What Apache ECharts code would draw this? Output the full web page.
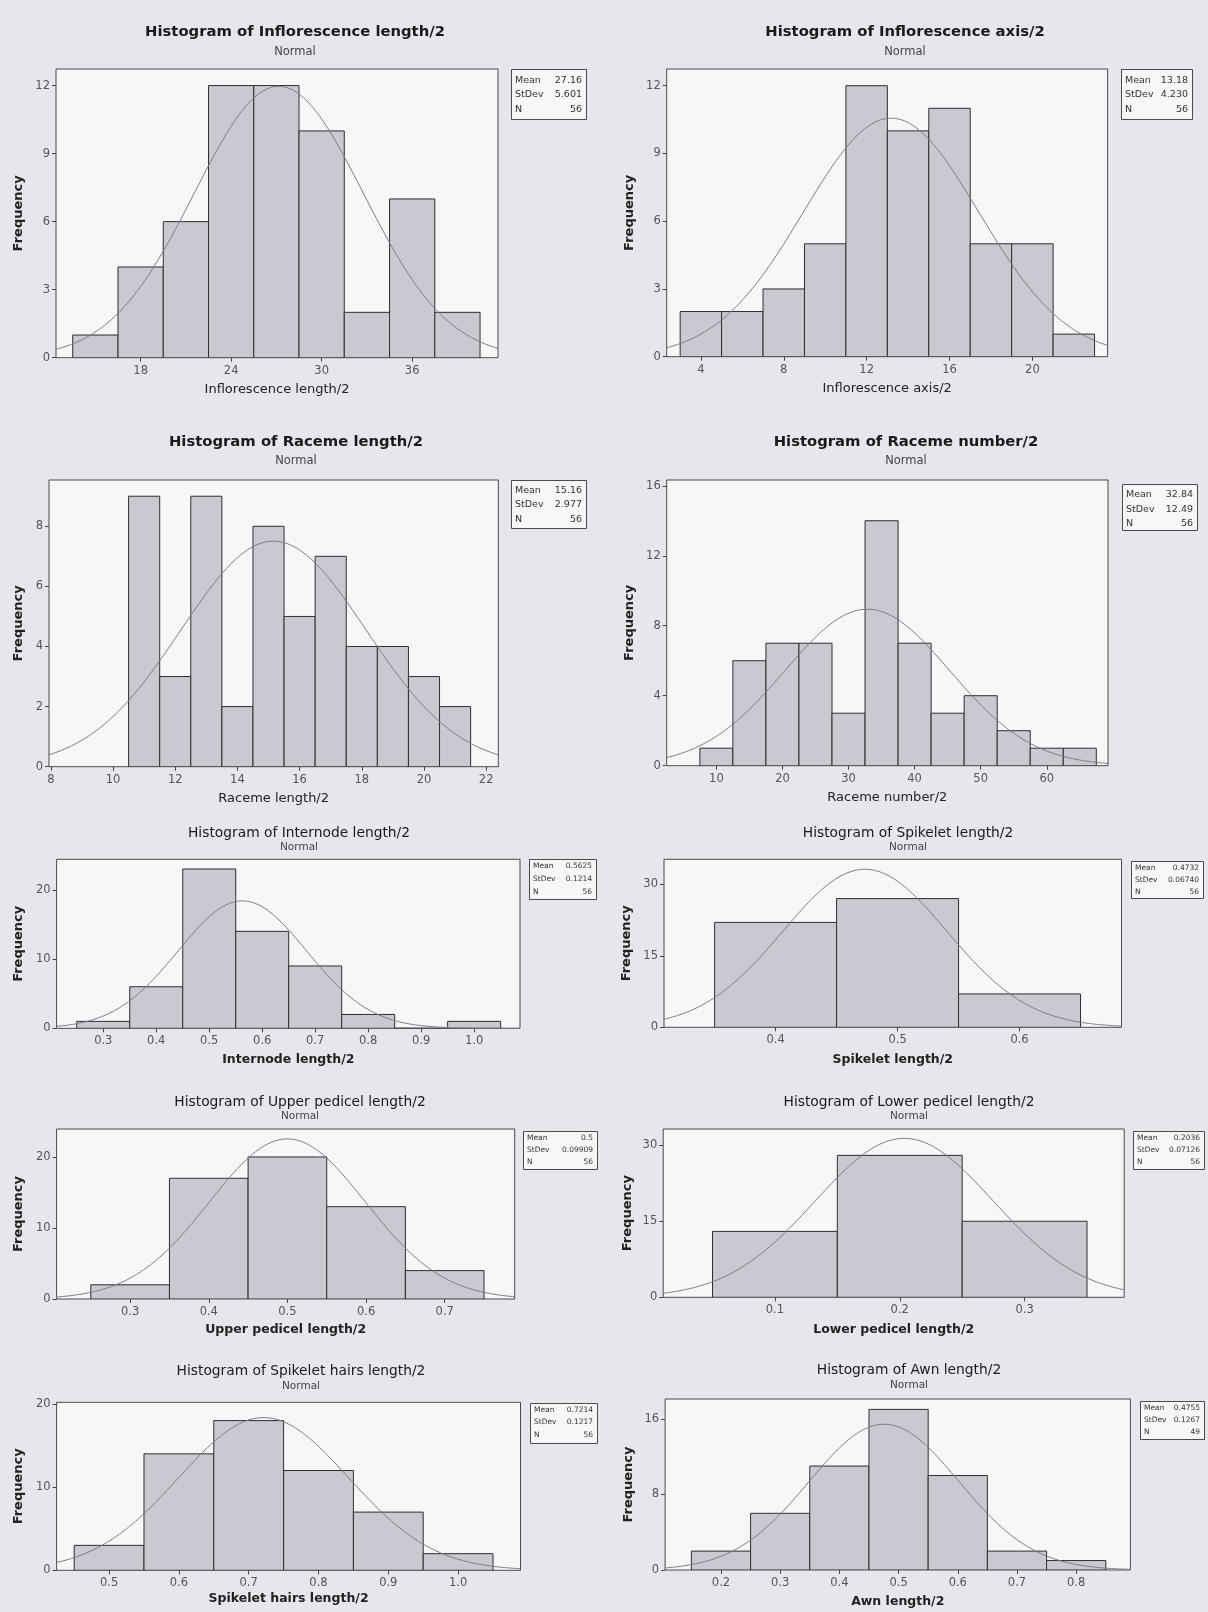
<!DOCTYPE html>
<html>
<head>
<meta charset="utf-8">
<script src="https://cdn.jsdelivr.net/npm/echarts@6/dist/echarts.min.js"></script>
<style>
html,body{margin:0;padding:0;background:#e6e6ec;}
#chart{width:1208px;height:1612px;}
</style>
</head>
<body>
<div id="chart"></div>
<script>
// ---------------- DATA ----------------
const panelTitles = [
  'Histogram of Inflorescence length/2', 'Histogram of Inflorescence axis/2',
  'Histogram of Raceme length/2', 'Histogram of Raceme number/2',
  'Histogram of Internode length/2', 'Histogram of Spikelet length/2',
  'Histogram of Upper pedicel length/2', 'Histogram of Lower pedicel length/2',
  'Histogram of Spikelet hairs length/2', 'Histogram of Awn length/2'
];
const xAxisNames = [
  'Inflorescence length/2', 'Inflorescence axis/2', 'Raceme length/2', 'Raceme number/2',
  'Internode length/2', 'Spikelet length/2', 'Upper pedicel length/2', 'Lower pedicel length/2',
  'Spikelet hairs length/2', 'Awn length/2'
];

// bin edges and counts (frequency) per histogram
const inflLengthEdges = [13.5, 16.5, 19.5, 22.5, 25.5, 28.5, 31.5, 34.5, 37.5, 40.5];
const inflLengthCounts = [1, 4, 6, 12, 12, 10, 2, 7, 2];
const inflAxisEdges = [3, 5, 7, 9, 11, 13, 15, 17, 19, 21, 23];
const inflAxisCounts = [2, 2, 3, 5, 12, 10, 11, 5, 5, 1];
const racemeLengthEdges = [10.5, 11.5, 12.5, 13.5, 14.5, 15.5, 16.5, 17.5, 18.5, 19.5, 20.5, 21.5];
const racemeLengthCounts = [9, 3, 9, 2, 8, 5, 7, 4, 4, 3, 2];
const racemeNumberEdges = [7.5, 12.5, 17.5, 22.5, 27.5, 32.5, 37.5, 42.5, 47.5, 52.5, 57.5, 62.5, 67.5];
const racemeNumberCounts = [1, 6, 7, 7, 3, 14, 7, 3, 4, 2, 1, 1];
const internodeEdges = [0.25, 0.35, 0.45, 0.55, 0.65, 0.75, 0.85, 0.95, 1.05];
const internodeCounts = [1, 6, 23, 14, 9, 2, 0, 1];
const spikeletEdges = [0.35, 0.45, 0.55, 0.65];
const spikeletCounts = [22, 27, 7];
const upperPedicelEdges = [0.25, 0.35, 0.45, 0.55, 0.65, 0.75];
const upperPedicelCounts = [2, 17, 20, 13, 4];
const lowerPedicelEdges = [0.05, 0.15, 0.25, 0.35];
const lowerPedicelCounts = [13, 28, 15];
const hairsEdges = [0.45, 0.55, 0.65, 0.75, 0.85, 0.95, 1.05];
const hairsCounts = [3, 14, 18, 12, 7, 2];
const awnEdges = [0.15, 0.25, 0.35, 0.45, 0.55, 0.65, 0.75, 0.85];
const awnCounts = [2, 6, 11, 17, 10, 2, 1];

// fitted normal statistics (as printed in the legend boxes)
const means = [27.16, 13.18, 15.16, 32.84, 0.5625, 0.4732, 0.5, 0.2036, 0.7214, 0.4755];
const stdevs = [5.601, 4.230, 2.977, 12.49, 0.1214, 0.06740, 0.09909, 0.07126, 0.1217, 0.1267];
const sampleSizes = [56, 56, 56, 56, 56, 56, 56, 56, 56, 49];
const meanLabels = ['27.16', '13.18', '15.16', '32.84', '0.5625', '0.4732', '0.5', '0.2036', '0.7214', '0.4755'];
const stdevLabels = ['5.601', '4.230', '2.977', '12.49', '0.1214', '0.06740', '0.09909', '0.07126', '0.1217', '0.1267'];

// tick labels
const xTicks = [
  [18, 24, 30, 36], [4, 8, 12, 16, 20], [8, 10, 12, 14, 16, 18, 20, 22], [10, 20, 30, 40, 50, 60],
  [0.3, 0.4, 0.5, 0.6, 0.7, 0.8, 0.9, 1.0], [0.4, 0.5, 0.6], [0.3, 0.4, 0.5, 0.6, 0.7], [0.1, 0.2, 0.3],
  [0.5, 0.6, 0.7, 0.8, 0.9, 1.0], [0.2, 0.3, 0.4, 0.5, 0.6, 0.7, 0.8]
];
const yTicks = [
  [0, 3, 6, 9, 12], [0, 3, 6, 9, 12], [0, 2, 4, 6, 8], [0, 4, 8, 12, 16],
  [0, 10, 20], [0, 15, 30], [0, 10, 20], [0, 15, 30], [0, 10, 20], [0, 8, 16]
];
const xRanges = [
  [12.39, 41.69], [2.35, 23.63], [7.94, 22.39], [2.48, 69.27], [0.2119, 1.0866],
  [0.3085, 0.6836], [0.2065, 0.789], [0.0105, 0.3798], [0.4248, 1.0894], [0.1056, 0.8916]
];
const yMaxes = [12.73, 12.74, 9.54, 16.33, 24.4, 35.24, 23.94, 33.2, 20.2, 18.1];

const allEdges = [inflLengthEdges, inflAxisEdges, racemeLengthEdges, racemeNumberEdges, internodeEdges,
  spikeletEdges, upperPedicelEdges, lowerPedicelEdges, hairsEdges, awnEdges];
const allCounts = [inflLengthCounts, inflAxisCounts, racemeLengthCounts, racemeNumberCounts, internodeCounts,
  spikeletCounts, upperPedicelCounts, lowerPedicelCounts, hairsCounts, awnCounts];

// ---------------- LAYOUT (pixels) ----------------
// [left, top, right, bottom]
const gridBoxes = [
  [56, 69, 498, 357.7], [666.7, 69, 1107.6, 356.7],
  [49, 480, 498.3, 766.7], [666.7, 480, 1108, 765.7],
  [56.6, 859.3, 520, 1028.3], [664, 859.3, 1121.5, 1027.3],
  [56.6, 1129, 514.7, 1299], [663.2, 1129, 1124.2, 1297.3],
  [56.6, 1402.3, 520.5, 1570.3], [665.1, 1399, 1130.4, 1570]
];
// title centre x, title y, subtitle y
const titlePos = [
  [295, 32, 52], [905, 32, 52], [296, 442, 461], [906, 442, 461],
  [299, 833, 847], [908, 833, 847], [300, 1102, 1116], [909, 1102, 1116],
  [301, 1371, 1386], [909, 1370, 1385]
];
// stats box [x0, y0, x1, y1, font, line1y, lineStep]
const statBoxes = [
  [511, 69, 586, 119, 9.5, 80.5, 14.5], [1121, 69, 1192, 119, 9.5, 80.5, 14.5],
  [511, 480, 586, 528, 9.5, 490.5, 14.5], [1122, 484, 1197, 530, 9.5, 495, 14.5],
  [529, 859, 596, 899, 7.5, 866.5, 13], [1131, 861, 1203, 898, 7.5, 868, 12],
  [523, 1131, 597, 1169, 7.5, 1138, 12], [1133, 1131, 1204, 1169, 7.5, 1138, 12],
  [530, 1403, 597, 1443, 7.5, 1410, 12.5], [1140, 1401, 1204, 1439, 7.5, 1408.5, 12]
];
const yNameGaps = [31, 31, 24, 31, 31, 31, 31, 29, 31, 30];
const xNameGaps = [25, 25, 25, 25, 25, 26, 24, 26, 22, 25];

const FONT = "'DejaVu Sans', Verdana, sans-serif";

const chart = echarts.init(document.getElementById('chart'), null, {renderer: 'canvas'});

const grids = [], xAxes = [], yAxes = [], series = [], graphics = [];

function decimalsOf(v) {
  const s = String(v);
  return s.indexOf('.') >= 0 ? s.split('.')[1].length : 0;
}

for (let i = 0; i < 10; i++) {
  const [l, t, r, b] = gridBoxes[i];
  const upper = i < 4;
  grids.push({
    left: l, top: t, width: r - l, height: b - t,
    show: true, backgroundColor: '#f7f7f9', borderColor: '#4a4a4a', borderWidth: 1,
    outerBoundsMode: 'none', containLabel: false
  });
  const dec = Math.max(...xTicks[i].map(decimalsOf), (i === 4 || i === 8) ? 1 : 0);
  xAxes.push({
    type: 'value', gridIndex: i, min: xRanges[i][0], max: xRanges[i][1],
    name: xAxisNames[i], nameLocation: 'middle', nameGap: xNameGaps[i],
    nameTextStyle: {fontFamily: FONT, fontSize: upper ? 13 : 12.5, fontWeight: upper ? 'normal' : 'bold', color: '#222'},
    axisLine: {show: false},
    axisTick: {show: true, length: 4, customValues: xTicks[i], lineStyle: {color: '#444'}},
    axisLabel: {show: true, customValues: xTicks[i], margin: 7, fontFamily: FONT, fontSize: 11.5, color: '#555',
      formatter: v => Number(v).toFixed(dec)},
    splitLine: {show: false}
  });
  yAxes.push({
    type: 'value', gridIndex: i, min: 0, max: yMaxes[i],
    name: 'Frequency', nameLocation: 'middle', nameGap: yNameGaps[i], nameRotate: 90,
    nameTextStyle: {fontFamily: FONT, fontSize: 13, fontWeight: 'bold', color: '#222'},
    axisLine: {show: false},
    axisTick: {show: true, length: 4, customValues: yTicks[i], lineStyle: {color: '#444'}},
    axisLabel: {show: true, customValues: yTicks[i], margin: 6, fontFamily: FONT, fontSize: 11.5, color: '#555'},
    splitLine: {show: false}
  });

  // histogram bars
  const edges = allEdges[i], counts = allCounts[i];
  const barData = counts.map((c, k) => [edges[k], edges[k + 1], c]);
  series.push({
    type: 'custom', xAxisIndex: i, yAxisIndex: i, data: barData,
    encode: {x: [0, 1], y: 2}, clip: true, silent: true,
    renderItem: function (params, api) {
      const p0 = api.coord([api.value(0), 0]);
      const p1 = api.coord([api.value(1), api.value(2)]);
      return {
        type: 'rect',
        shape: {x: p0[0], y: p1[1], width: p1[0] - p0[0], height: p0[1] - p1[1]},
        style: {fill: '#c9c9d1', stroke: '#2e2e2e', lineWidth: 1}
      };
    }
  });

  // fitted normal curve (from printed Mean / StDev / N and bin width)
  const bw = edges[1] - edges[0];
  const m = means[i], s = stdevs[i], n = sampleSizes[i];
  const [x0, x1] = xRanges[i];
  const curve = [];
  for (let k = 0; k <= 200; k++) {
    const x = x0 + (x1 - x0) * k / 200;
    const z = (x - m) / s;
    curve.push([x, n * bw * Math.exp(-0.5 * z * z) / (s * Math.sqrt(2 * Math.PI))]);
  }
  series.push({
    type: 'line', xAxisIndex: i, yAxisIndex: i, data: curve, showSymbol: false,
    smooth: false, clip: true, silent: true, z: 3,
    lineStyle: {color: '#7c7c84', width: 1}
  });

  // titles
  const [tx, ty, sy] = titlePos[i];
  graphics.push({
    type: 'text', x: tx, y: ty, silent: true,
    style: {text: panelTitles[i], fill: '#1a1a1a', align: 'center', verticalAlign: 'middle',
      font: (upper ? 'bold 14.8px ' : 'normal 13.8px ') + FONT}
  });
  graphics.push({
    type: 'text', x: tx, y: sy, silent: true,
    style: {text: 'Normal', fill: '#444', align: 'center', verticalAlign: 'middle',
      font: (upper ? '11.5px ' : '10.5px ') + FONT}
  });

  // stats box
  const [bx0, by0, bx1, by1, fs, ly, step] = statBoxes[i];
  graphics.push({
    type: 'rect', silent: true,
    shape: {x: bx0 + 0.5, y: by0 + 0.5, width: bx1 - bx0, height: by1 - by0},
    style: {fill: '#f7f7f9', stroke: '#4a4a4a', lineWidth: 1}
  });
  const rows = [['Mean', meanLabels[i]], ['StDev', stdevLabels[i]], ['N', String(sampleSizes[i])]];
  rows.forEach((row, k) => {
    graphics.push({
      type: 'text', x: bx0 + 4, y: ly + k * step, silent: true,
      style: {text: row[0], fill: '#333', align: 'left', verticalAlign: 'middle', font: fs + 'px ' + FONT}
    });
    graphics.push({
      type: 'text', x: bx1 - 4, y: ly + k * step, silent: true,
      style: {text: row[1], fill: '#333', align: 'right', verticalAlign: 'middle', font: fs + 'px ' + FONT}
    });
  });
}

chart.setOption({
  backgroundColor: '#e6e6ec',
  animation: false,
  grid: grids,
  xAxis: xAxes,
  yAxis: yAxes,
  series: series,
  graphic: {elements: graphics}
});
</script>
</body>
</html>
